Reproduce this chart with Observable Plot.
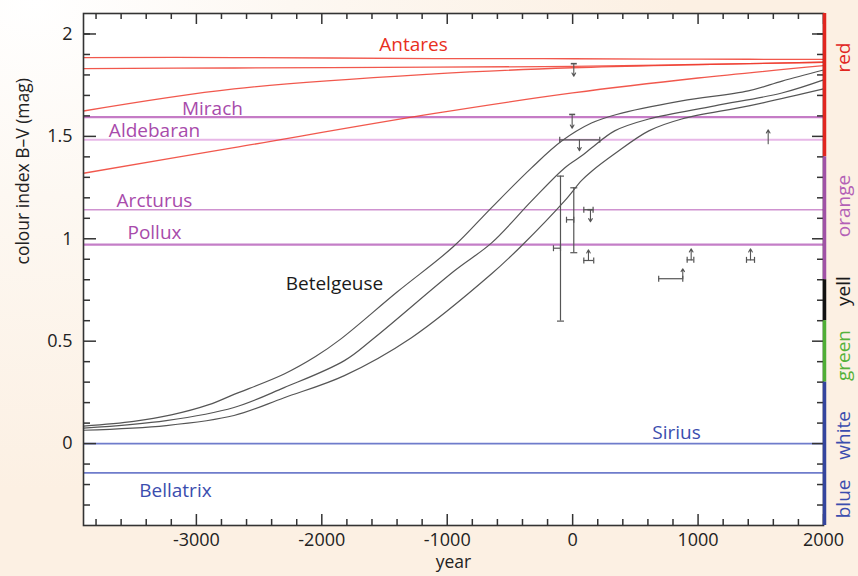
<!DOCTYPE html>
<html><head><meta charset="utf-8">
<script src="https://cdn.jsdelivr.net/npm/d3@7"></script>
<script src="https://cdn.jsdelivr.net/npm/@observablehq/plot@0.6"></script>
<style>
html,body{margin:0;padding:0;}
body{width:858px;height:576px;overflow:hidden;background:radial-gradient(ellipse 75% 85% at 4% 0%, #ffffff 0%, #fdf8f2 40%, #fcf0e3 100%);}
#chart svg{display:block;}
</style></head><body><div id="chart"></div>
<script>
// ---------- data ----------
const xMajor = [-3000, -2000, -1000, 0, 1000, 2000];
const xMinor = [-3800,-3600,-3400,-3200,-2800,-2600,-2400,-2200,-1800,-1600,-1400,-1200,-800,-600,-400,-200,200,400,600,800,1200,1400,1600,1800];
const yMajor = [0, 0.5, 1, 1.5, 2];
const yMinor = [-0.3,-0.2,-0.1,0.1,0.2,0.3,0.4,0.6,0.7,0.8,0.9,1.1,1.2,1.3,1.4,1.6,1.7,1.8,1.9,2.0];

// Antares (red) lines
const antaresYears = [-3900, -2700, -1100, 0, 1000, 2000];
const antares1 = [1.885, 1.885, 1.880, 1.879, 1.877, 1.876];
const antares2 = [1.831, 1.834, 1.838, 1.842, 1.851, 1.862];
const antares3 = [1.624, 1.732, 1.805, 1.835, 1.850, 1.862];
const antares4 = [1.320, 1.445, 1.612, 1.712, 1.785, 1.845];

// Betelgeuse curves
const betelAYears = [-3900,-3500,-3200,-2900,-2700,-2300,-2050,-1850,-1400,-950,-650,-330,-90,150,350,870,1400,1670,2000];
const betelA      = [0.085,0.108,0.140,0.190,0.240,0.340,0.425,0.510,0.740,0.962,1.150,1.345,1.476,1.565,1.607,1.673,1.722,1.770,1.824];
const betelBYears = [-3900,-3240,-2700,-2300,-1820,-1580,-942,-646,-327,-64,72,152,335,607,1133,1668,2000];
const betelB      = [0.075,0.112,0.176,0.273,0.405,0.517,0.844,0.980,1.185,1.346,1.405,1.444,1.527,1.585,1.649,1.712,1.776];
const betelCYears = [-3900,-3240,-2700,-2300,-1820,-1285,-646,-407,-64,72,152,335,607,870,1405,2000];
const betelC      = [0.065,0.088,0.137,0.224,0.332,0.517,0.829,0.966,1.185,1.285,1.330,1.415,1.527,1.585,1.649,1.732];

// comparison stars (constant B-V)
const starNames = ["Mirach", "Aldebaran", "Arcturus", "Pollux", "Sirius", "Bellatrix"];
const starBV    = [1.594, 1.483, 1.142, 0.971, 0.0, -0.143];
const starLabelYear = [-2872, -3334, -3334, -3334, 828, -3167];
const starLabelBV   = [1.636, 1.529, 1.187, 1.031, 0.054, -0.229];

// historical observations
const vbarYear = [-97, 9];
const vbarLo   = [0.598, 0.932];
const vbarHi   = [1.306, 1.249];
const hbarBV   = [0.954, 1.093, 1.142, 0.894, 1.483, 0.897, 0.897, 0.805];
const hbarFrom = [-153, -49, 89, 89, -103, 913, 1386, 686];
const hbarTo   = [-97, 9, 163, 168, 216, 966, 1450, 878];
const arrowYear = [9, -4, 54, 142, 126, 945, 1418, 878, 1559];
const arrowFrom = [1.855, 1.607, 1.483, 1.142, 0.894, 0.897, 0.897, 0.805, 1.464];
const arrowTo   = [1.794, 1.540, 1.430, 1.083, 0.946, 0.951, 0.951, 0.854, 1.532];
const arrowCap  = [true, true, false, true, false, false, false, false, false];

// colour bands (right edge)
const bandNames = ["red", "orange", "yell", "green", "blue"];
const bandLo = [1.4, 0.8, 0.6, 0.3, -0.4];
const bandHi = [2.1, 1.4, 0.8, 0.6, 0.3];
const bandLabels = ["red", "orange", "yell", "green", "white", "blue"];
const bandLabelBV = [1.885, 1.16, 0.745, 0.43, 0.04, -0.27];

// ---------- styles ----------
const W = 858, H = 576, mL = 83, mR = 35, mT = 13, mB = 51;
const plotW = W - mL - mR, plotH = H - mT - mB;
const axisColor = "#333";
const labelSize = 19, tickSize = 18;
const starLineColor = {Mirach: "#c57cc6", Aldebaran: "#e7b7e7", Arcturus: "#cf92d0", Pollux: "#c47ec7", Sirius: "#6f7ccb", Bellatrix: "#6f7ccb"};
const starLineWidth = {Mirach: 2.2, Aldebaran: 2, Arcturus: 1.5, Pollux: 2.2, Sirius: 1.6, Bellatrix: 1.6};
const starLabelColor = {Mirach: "#a84bab", Aldebaran: "#a84bab", Arcturus: "#a84bab", Pollux: "#a84bab", Sirius: "#3b4dae", Bellatrix: "#3b4dae"};
const bandColor = {red: "#e1261f", orange: "#a052a6", yell: "#111111", green: "#4fae35", blue: "#34459e"};
const bandLabelColor = {red: "#e1261f", orange: "#b360b6", yell: "#1a1a1a", green: "#55b23a", white: "#3b4dae", blue: "#3b4dae"};

// ---------- tables ----------
const antaresTable = [antares1, antares2, antares3, antares4].flatMap((arr, k) =>
  antaresYears.map((yr, i) => ({k, year: yr, bv: arr[i]})));
const betelTable = [
  ...betelAYears.map((yr, i) => ({k: "A", year: yr, bv: betelA[i]})),
  ...betelBYears.map((yr, i) => ({k: "B", year: yr, bv: betelB[i]})),
  ...betelCYears.map((yr, i) => ({k: "C", year: yr, bv: betelC[i]}))
];
const stars = starNames.map((n, i) => ({name: n, bv: starBV[i], ly: starLabelYear[i], lbv: starLabelBV[i]}));
const vbars = vbarYear.map((yr, i) => ({year: yr, lo: vbarLo[i], hi: vbarHi[i]}));
const hbars = hbarBV.map((bv, i) => ({bv, x1: hbarFrom[i], x2: hbarTo[i]}));
const arrows = arrowYear.map((yr, i) => ({year: yr, y1: arrowFrom[i], y2: arrowTo[i], cap: arrowCap[i]}));
const bands = bandNames.map((n, i) => ({name: n, lo: bandLo[i], hi: bandHi[i]}));
const bandLbl = bandLabels.map((n, i) => ({name: n, bv: bandLabelBV[i]}));

const hcapSym = {draw(c, s) { const r = Math.sqrt(s / Math.PI); c.moveTo(-r, 0); c.lineTo(r, 0); }};
const vcapSym = {draw(c, s) { const r = Math.sqrt(s / Math.PI); c.moveTo(0, -r); c.lineTo(0, r); }};
const errColor = "#555";

const chart = Plot.plot({
  width: W, height: H,
  marginLeft: mL, marginRight: mR, marginTop: mT, marginBottom: mB,
  x: {domain: [-3900, 2000]},
  y: {domain: [-0.4, 2.1]},
  style: {background: "transparent", fontFamily: "'Open Sans', sans-serif", fontSize: "18px", color: "#222", overflow: "visible"},
  marks: [
    Plot.frame({fill: "white", stroke: null}),
    // star reference lines
    ...stars.map(s => Plot.ruleY([s], {y: "bv", stroke: starLineColor[s.name], strokeWidth: starLineWidth[s.name]})),
    // Antares lines
    Plot.line(antaresTable, {x: "year", y: "bv", z: "k", stroke: "#ee3b2e", strokeOpacity: 0.85, strokeWidth: 1.3, curve: "catmull-rom"}),
    // Betelgeuse curves
    Plot.line(betelTable, {x: "year", y: "bv", z: "k", stroke: "#555", strokeWidth: 1.2, curve: "catmull-rom"}),
    // error bars
    Plot.ruleX(vbars, {x: "year", y1: "lo", y2: "hi", stroke: errColor, strokeWidth: 1.2}),
    Plot.dot(vbars, {x: "year", y: "lo", symbol: hcapSym, r: 3.5, fill: "none", stroke: errColor, strokeWidth: 1.2}),
    Plot.dot(vbars, {x: "year", y: "hi", symbol: hcapSym, r: 3.5, fill: "none", stroke: errColor, strokeWidth: 1.2}),
    Plot.ruleY(hbars, {y: "bv", x1: "x1", x2: "x2", stroke: errColor, strokeWidth: 1.2}),
    Plot.dot(hbars, {x: "x1", y: "bv", symbol: vcapSym, r: 3, fill: "none", stroke: errColor, strokeWidth: 1.2}),
    Plot.dot(hbars, {x: "x2", y: "bv", symbol: vcapSym, r: 3, fill: "none", stroke: errColor, strokeWidth: 1.2}),
    Plot.arrow(arrows, {x: "year", y1: "y1", y2: "y2", stroke: errColor, strokeWidth: 1.1, headLength: 5, headAngle: 60}),
    Plot.dot(arrows.filter(d => d.cap), {x: "year", y: "y1", symbol: hcapSym, r: 3, fill: "none", stroke: errColor, strokeWidth: 1.6}),
    // labels
    Plot.text(["Antares"], {x: -1269, y: 1.949, text: d => d, fill: "#e8301e", fontSize: labelSize}),
    Plot.text(["Betelgeuse"], {x: -1899, y: 0.782, text: d => d, fill: "#1a1a1a", fontSize: labelSize}),
    Plot.text(stars, {x: "ly", y: "lbv", text: "name", fill: d => starLabelColor[d.name], fontSize: labelSize}),
    // inward ticks
    Plot.tickX(xMajor, {x: d => d, insetTop: plotH - 11, stroke: axisColor, strokeWidth: 1.5}),
    Plot.tickX(xMinor, {x: d => d, insetTop: plotH - 6, stroke: axisColor, strokeWidth: 1.5}),
    Plot.tickX(xMajor, {x: d => d, insetBottom: plotH - 11, stroke: axisColor, strokeWidth: 1.5}),
    Plot.tickX(xMinor, {x: d => d, insetBottom: plotH - 6, stroke: axisColor, strokeWidth: 1.5}),
    Plot.tickY(yMajor, {y: d => d, insetRight: plotW - 13, stroke: axisColor, strokeWidth: 1.5}),
    Plot.tickY(yMinor, {y: d => d, insetRight: plotW - 7, stroke: axisColor, strokeWidth: 1.5}),
    Plot.tickY(yMajor, {y: d => d, insetLeft: plotW - 11, stroke: axisColor, strokeWidth: 1.5}),
    Plot.tickY(yMinor, {y: d => d, insetLeft: plotW - 6, stroke: axisColor, strokeWidth: 1.5}),
    Plot.frame({stroke: axisColor, strokeWidth: 1.6}),
    // colour band bar
    Plot.ruleX(bands, {x: 2000, y1: "lo", y2: "hi", stroke: d => bandColor[d.name], strokeWidth: 3.5, dx: 1}),
    Plot.text(bandLbl, {x: 2000, y: "bv", text: "name", dx: 20, rotate: -90, fill: d => bandLabelColor[d.name], fontSize: labelSize}),
    // axes
    Plot.axisX(xMajor, {tickSize: 0, tickPadding: 8, tickFormat: d => String(d), label: null, fontSize: tickSize, fill: "#222"}),
    Plot.axisY(yMajor, {tickSize: 0, tickPadding: 11, tickFormat: d => String(d), label: null, fontSize: tickSize, fill: "#222"}),
    Plot.text(["year"], {frameAnchor: "bottom", dy: 42, text: d => d, fontSize: 17.5, fill: "#222"}),
    Plot.text(["colour index B–V (mag)"], {frameAnchor: "left", dx: -60, dy: -5, rotate: -90, text: d => d, fontSize: 17.5, fill: "#222"})
  ]
});
document.getElementById("chart").appendChild(chart);
</script></body></html>
